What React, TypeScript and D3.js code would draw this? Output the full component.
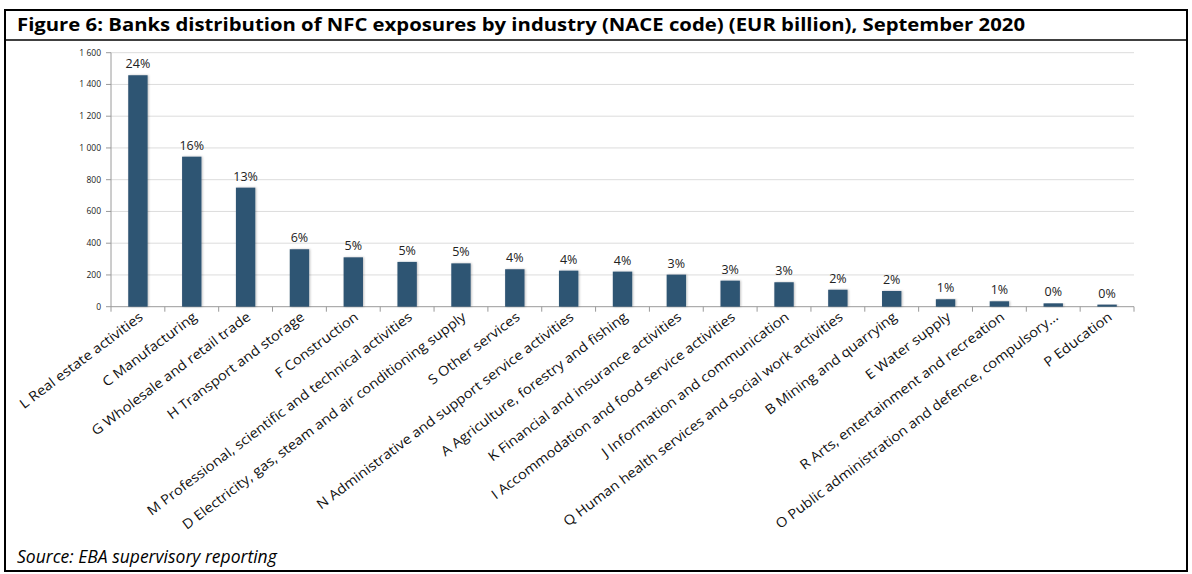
import React from "react";
import * as d3 from "d3";

const categories = [
  "L Real estate activities",
  "C Manufacturing",
  "G Wholesale and retail trade",
  "H Transport and storage",
  "F Construction",
  "M Professional, scientific and technical activities",
  "D Electricity, gas, steam and air conditioning supply",
  "S Other services",
  "N Administrative and support service activities",
  "A Agriculture, forestry and fishing",
  "K Financial and insurance activities",
  "I Accommodation and food service activities",
  "J Information and communication",
  "Q Human health services and social work activities",
  "B Mining and quarrying",
  "E Water supply",
  "R Arts, entertainment and recreation",
  "O Public administration and defence, compulsory…",
  "P Education",
];
const values = [1458, 945, 750, 362, 311, 282, 273, 236, 227, 221, 202, 164, 154, 107, 99, 47, 34, 21, 13];
const shares = ["24%", "16%", "13%", "6%", "5%", "5%", "5%", "4%", "4%", "4%", "3%", "3%", "3%", "2%", "2%", "1%", "1%", "0%", "0%"];
const yTicks = [0, 200, 400, 600, 800, 1000, 1200, 1400, 1600];

const title = "Figure 6:  Banks distribution of NFC exposures by industry (NACE code) (EUR billion), September 2020";
const source = "Source: EBA supervisory reporting";

export default function App() {
  const W = 1192, H = 574;
  const x0 = 111, x1 = 1134, yTop = 52.7, yBot = 306.7;
  const x = d3.scaleBand<string>().domain(categories).range([x0, x1]).paddingInner(0.64).paddingOuter(0.32);
  const y = d3.scaleLinear().domain([0, 1600]).range([yBot, yTop]);
  const bw = x.bandwidth();
  const font = "'Open Sans', 'Liberation Sans', sans-serif";
  const fmt = (v: number) => (v >= 1000 ? d3.format(",")(v).replace(",", " ") : String(v));
  const boundaries = d3.range(categories.length + 1).map((i) => x0 + ((x1 - x0) * i) / categories.length);

  return (
    <svg width={W} height={H} style={{ position: "absolute", left: 0, top: 0, background: "#fff" }}>
      <defs>
        <filter id="sh" x="-30%" y="-10%" width="160%" height="120%">
          <feDropShadow dx="1" dy="0" stdDeviation="0.8" floodColor="#000" floodOpacity="0.25" />
        </filter>
      </defs>
      {/* frame */}
      <rect x={5} y={10} width={1182} height={561} fill="none" stroke="#000" strokeWidth={2} />
      <line x1={5} x2={1187} y1={40} y2={40} stroke="#000" strokeWidth={1.5} />
      <text x={17} y={31} fontFamily={font} fontWeight="bold" fontSize={17.5} textLength={1008} lengthAdjust="spacingAndGlyphs" fill="#000">
        {title}
      </text>

      {/* gridlines */}
      {yTicks.map((t) => (
        <line key={"g" + t} x1={x0} x2={x1} y1={y(t)} y2={y(t)} stroke={t === 0 ? "#9a9a9a" : "#dcdcdc"} strokeWidth={1} />
      ))}
      {/* y axis */}
      <line x1={x0} x2={x0} y1={yTop} y2={yBot} stroke="#9a9a9a" />
      {yTicks.map((t) => (
        <g key={"t" + t}>
          <line x1={x0 - 5} x2={x0} y1={y(t)} y2={y(t)} stroke="#9a9a9a" />
          <text x={x0 - 10} y={y(t)} dy="0.35em" textAnchor="end" fontFamily={font} fontSize={8.5} fill="#222">
            {fmt(t)}
          </text>
        </g>
      ))}
      {/* x ticks */}
      {boundaries.map((bx, i) => (
        <line key={"xb" + i} x1={bx} x2={bx} y1={yBot} y2={yBot + 5} stroke="#9a9a9a" />
      ))}

      {/* bars */}
      {categories.map((c, i) => (
        <g key={c}>
          <rect x={x(c)} y={y(values[i])} width={bw} height={yBot - y(values[i])} fill="#2F5473" filter="url(#sh)" />
          <text x={(x(c) as number) + bw / 2} y={y(values[i]) - 7} textAnchor="middle" fontFamily={font} fontSize={12.5} fill="#222">
            {shares[i]}
          </text>
        </g>
      ))}

      {/* category labels */}
      {categories.map((c) => {
        const cx = (x(c) as number) + bw / 2 + 6;
        const cy = yBot + 12;
        return (
          <text key={"l" + c} transform={`translate(${cx},${cy}) rotate(-37) scale(1.1,1)`} textAnchor="end" fontFamily={font} fontSize={13.4} fill="#111">
            {c}
          </text>
        );
      })}

      <text x={17} y={563} fontFamily={font} fontStyle="italic" fontSize={17.5} fill="#000">
        {source}
      </text>
    </svg>
  );
}
